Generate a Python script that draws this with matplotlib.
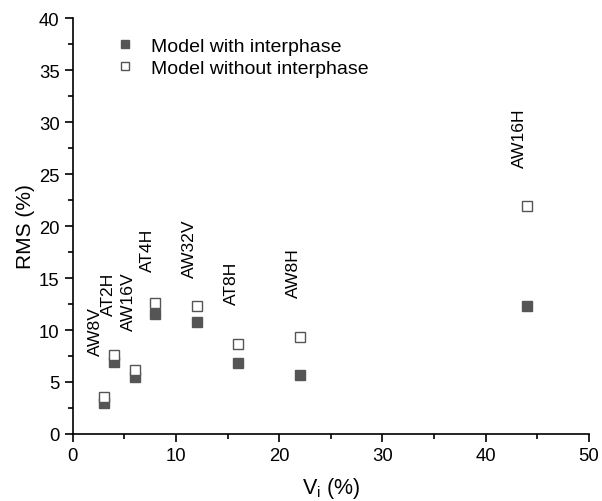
import matplotlib
matplotlib.use("Agg")
import matplotlib.pyplot as plt
from matplotlib.ticker import MultipleLocator

plt.rcParams['font.family'] = ['Liberation Sans', 'DejaVu Sans']

vi = [3, 4, 6, 8, 12, 16, 22, 44]
rms_with = [3.0, 6.95, 5.5, 11.5, 10.8, 6.8, 5.65, 12.3]
rms_without = [3.55, 7.6, 6.2, 12.6, 12.3, 8.7, 9.3, 21.9]

labels = ["AW8V", "AT2H", "AW16V", "AT4H", "AW32V", "AT8H", "AW8H", "AW16H"]
label_x = [2.2, 3.45, 5.35, 7.2, 11.3, 15.4, 21.35, 43.3]
label_y = [9.9, 13.5, 12.8, 17.8, 17.9, 14.6, 15.6, 28.5]

fig = plt.figure(figsize=(6.02, 5.02), dpi=100)
ax = fig.add_axes([0.121, 0.1335, 0.857, 0.8285])

ax.plot(vi, rms_with, linestyle='none', marker='s', markersize=7,
        color='#555555', markeredgecolor='#555555', label='Model with interphase')
ax.plot(vi, rms_without, linestyle='none', marker='s', markersize=7,
        markerfacecolor='white', markeredgecolor='#555555', markeredgewidth=1.0,
        label='Model without interphase')

for t, x, y in zip(labels, label_x, label_y):
    ax.text(x, y, t, rotation=90, ha='center', va='center', fontsize=12.6)

ax.set_xlim(0, 50)
ax.set_ylim(0, 40)
ax.xaxis.set_major_locator(MultipleLocator(10))
ax.xaxis.set_minor_locator(MultipleLocator(5))
ax.yaxis.set_major_locator(MultipleLocator(5))
ax.yaxis.set_minor_locator(MultipleLocator(2.5))
ax.spines['top'].set_visible(False)
ax.spines['right'].set_visible(False)
for s in ('left', 'bottom'):
    ax.spines[s].set_linewidth(1.2)
ax.tick_params(which='major', direction='out', length=6, width=1.2, labelsize=13.3)
ax.tick_params(which='minor', direction='out', length=3.5, width=1.2)

ax.set_xlabel('V$_\\mathregular{i}$ (%)', fontsize=15.5, labelpad=8)
ax.set_ylabel('RMS (%)', fontsize=15, labelpad=3)

ax.legend(loc='upper left', bbox_to_anchor=(0.045, 0.995), frameon=False,
          fontsize=14, handletextpad=0.75, labelspacing=0.2, markerscale=0.75,
          handlelength=1.2)

fig.savefig('out.png', dpi=100)
